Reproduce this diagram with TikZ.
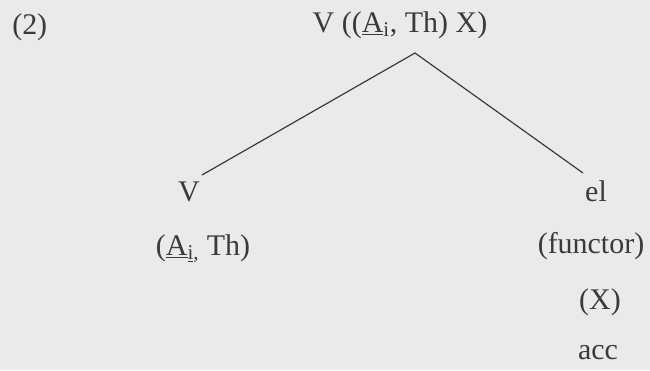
\documentclass[tikz,border=0pt]{standalone}
\usepackage{fontspec}
\setmainfont{Liberation Serif}
\usepackage{xcolor}
\usetikzlibrary{positioning}
\definecolor{scanPaper}{RGB}{234,234,234}
\definecolor{scanInk}{RGB}{58,58,58}
\tikzset{
  lbl/.style={anchor=base,inner sep=0pt,text=scanInk,font=\fontsize{21.3}{26}\selectfont},
  branch/.style={draw=scanInk,line width=0.85pt}
}

\begin{document}
\begin{tikzpicture}[x=0.025cm,y=-0.025cm]
  \fill[scanPaper] (0,0) rectangle (650,370);
  \useasboundingbox (0,0) rectangle (650,370);
  \node[lbl,anchor=base west] (num) at (12,34) {(2)};
  \node[lbl] (root) at (400,32) {V ((\underline{A}\textsubscript{i}, Th) X)};
  \coordinate (apex) at (415,53);
  \node[lbl] (vleft) at (189,201) {V};
  \node[lbl] (vargs) at (203,255) {(\underline{A}\textsubscript{\underline{i},} Th)};
  \node[lbl] (el) at (596,201) {el};
  \node[lbl] (functor) at (591,253) {(functor)};
  \node[lbl] (xarg) at (600,309) {(X)};
  \node[lbl] (acc) at (598,359) {acc};
  \coordinate (lend) at (202,175);
  \coordinate (rend) at (583,173);
  \draw[branch] (lend) -- (apex) -- (rend);
\end{tikzpicture}
\end{document}
